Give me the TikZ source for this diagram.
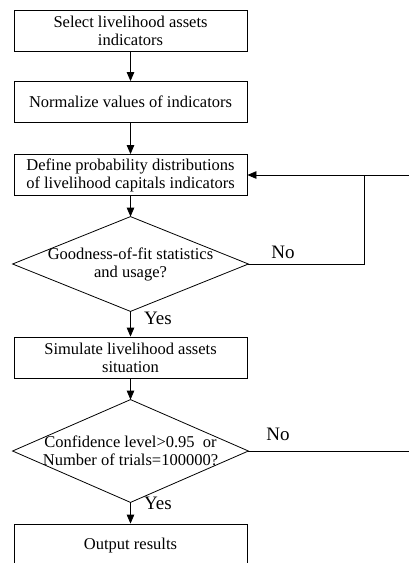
\documentclass[tikz,border=0pt]{standalone}
\usepackage{fontspec}
\setmainfont{Liberation Serif}
\usetikzlibrary{shapes, arrows.meta, positioning}

\begin{document}
\begin{tikzpicture}[x=1pt, y=-1pt, line width=0.8pt, >={Triangle[length=9pt,width=7.5pt]},
		stepbox/.style={rectangle,draw,minimum width=233pt,minimum height=41pt,inner sep=2pt,align=center,font=\fontsize{16.5}{18}\selectfont},
		testbox/.style={rectangle,minimum width=235pt,inner sep=0pt,align=center,font=\fontsize{16.5}{18}\selectfont},
		answer/.style={font=\fontsize{19}{20}\selectfont}]
		\useasboundingbox (0,0) rectangle (409,563);
		\clip (0,0) rectangle (409,563);
		
		\node[stepbox] (A) at (130.5,30.5) {Select livelihood assets\\indicators};
		
		\node[stepbox] (B) at (130.5,102) {Normalize values of indicators};
		
		\node[stepbox] (C) at (130.5,175) {Define probability distributions\\of livelihood capitals indicators};
		
		\node[testbox, minimum height=94pt] (Q1) at (130.5,264) {Goodness-of-fit statistics\\and usage?};
		\draw (Q1.north) -- (Q1.east) -- (Q1.south) -- (Q1.west) -- cycle;
		
		\node[stepbox] (D) at (130.5,357.5) {Simulate livelihood assets\\situation};
		
		\node[testbox, minimum height=102pt] (Q2) at (130.5,451) {Confidence level>0.95~ or\\Number of trials=100000?};
		\draw (Q2.north) -- (Q2.east) -- (Q2.south) -- (Q2.west) -- cycle;
		
		\node[stepbox, minimum height=44pt] (E) at (130.5,546) {Output results};
		
		\node[answer] (no1) at (283,252) {No};
		\node[answer] (yes1) at (158,318) {Yes};
		\node[answer] (no2) at (278,434) {No};
		\node[answer] (yes2) at (158,503) {Yes};
		
		\coordinate (join) at (364,175);
		\coordinate (far) at (430,451);
		
		\draw[->] (A) -- (B);
		\draw[->] (B) -- (C);
		\draw[->] (C) -- (Q1);
		\draw[->] (Q1) -- (D);
		\draw[->] (D) -- (Q2);
		\draw[->] (Q2) -- (E);
		
		\draw (Q1.east) -| (join);
		\draw[->] (Q2.east) -- (far) |- (C.east);

	\end{tikzpicture}
\end{document}
